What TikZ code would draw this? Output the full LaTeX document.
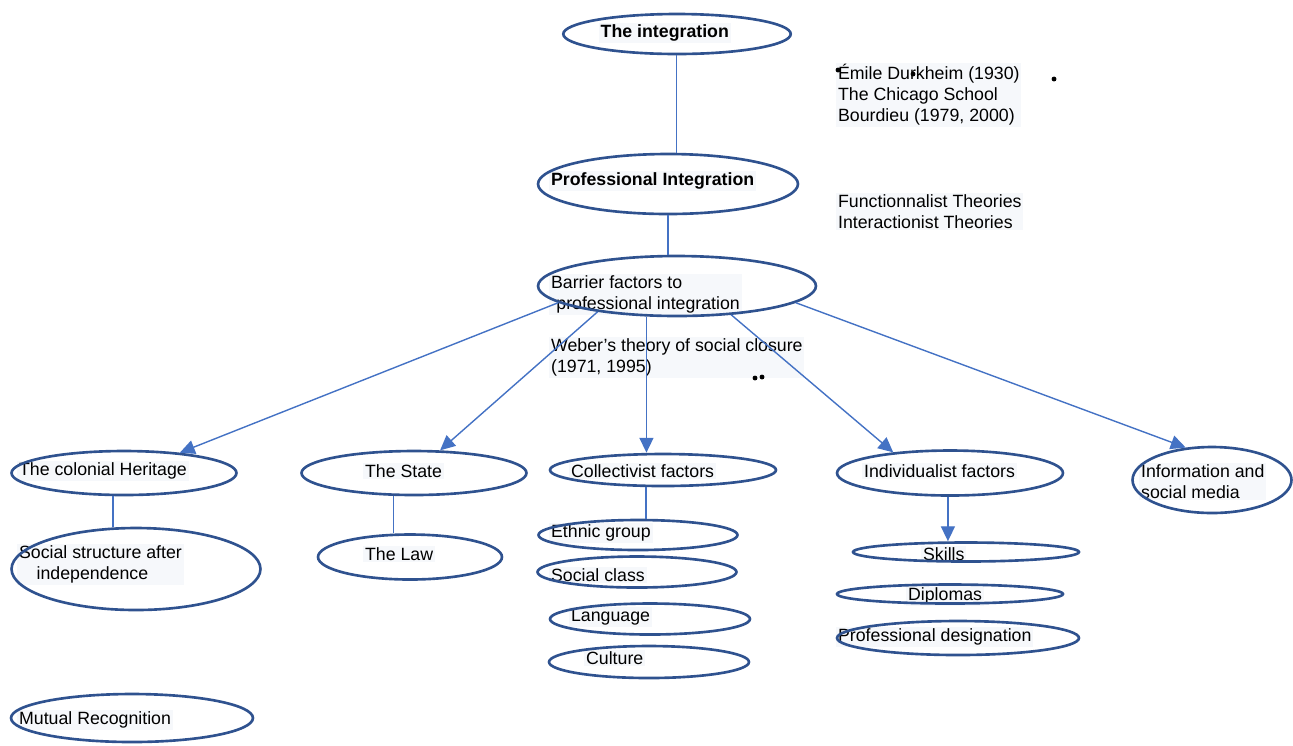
\documentclass[tikz,border=0pt]{standalone}
\usepackage{fontspec}
\setmainfont{Liberation Sans}
\usetikzlibrary{shapes.geometric}
\usetikzlibrary{arrows.meta,positioning}
\definecolor{ovalblue}{RGB}{47,82,143}
\definecolor{linkblue}{RGB}{68,114,196}
\definecolor{textbg}{RGB}{246,248,251}

\begin{document}
\begin{tikzpicture}[x=0.02cm,y=-0.02cm,-,auto]
\tikzstyle{oval}=[ellipse,draw=ovalblue,line width=1.5pt,inner sep=0pt]
\tikzstyle{txt}=[fill=textbg,inner sep=1pt,anchor=west,align=left,font=\fontsize{10.1}{12}\selectfont]
\tikzstyle{link}=[draw=linkblue,line width=0.8pt]
\tikzstyle{arr}=[link,-{Triangle[length=8.5pt,width=8pt]}]
\useasboundingbox (0,0) rectangle (1293,745);
% texts
\node [txt,anchor=east] (t0) at (731,33) {\bfseries The integration};
\node [txt] (t1) at (549,181) {\bfseries Professional Integration};
\node [txt] (t2) at (549,294.5) {Barrier factors to\\\hspace*{3pt}professional integration};
\node [txt] (t3) at (549,357.5) {Weber’s theory of social closure\\(1971, 1995)};
\node [txt] (t4) at (836,95) {Émile Durkheim (1930)\\The Chicago School\\Bourdieu (1979, 2000)};
\node [txt] (t5) at (836,211.5) {Functionnalist Theories\\Interactionist Theories};
\node [txt] (t6) at (17,471) {The colonial Heritage};
\node [txt] (t7) at (363,471) {The State};
\node [txt] (t8) at (569,471) {Collectivist factors};
\node [txt] (t9) at (862,471) {Individualist factors};
\node [txt] (t10) at (1139,481.5) {Information and\\social media};
\node [txt] (t11) at (17,564.5) {Social structure after\\\hspace*{10pt}independence};
\node [txt] (t12) at (363,554) {The Law};
\node [txt] (t13) at (549,533) {Ethnic group};
\node [txt] (t14) at (549,575) {Social class};
\node [txt] (t15) at (569,617) {Language};
\node [txt] (t16) at (584,658) {Culture};
\node [txt] (t17) at (921,554) {Skills};
\node [txt] (t18) at (906,596) {Diplomas};
\node [txt] (t19) at (836,637) {Professional designation};
\node [txt] (t20) at (17,720) {Mutual Recognition};
% ovals
\node [oval,minimum width=4.55cm,minimum height=0.8cm] (integ) at (677,34) {};
\node [oval,minimum width=5.2cm,minimum height=1.2cm] (prof) at (668,184) {};
\node [oval,minimum width=5.56cm,minimum height=1.2cm] (barrier) at (677,286) {};
\node [oval,minimum width=4.5cm,minimum height=0.88cm] (colonial) at (124,473) {};
\node [oval,minimum width=4.5cm,minimum height=0.88cm] (state) at (414,473) {};
\node [oval,minimum width=4.52cm,minimum height=0.64cm] (collect) at (663,470) {};
\node [oval,minimum width=4.52cm,minimum height=0.9cm] (indiv) at (950,473) {};
\node [oval,minimum width=3.18cm,minimum height=1.32cm] (info) at (1212,480) {};
\node [oval,minimum width=4.98cm,minimum height=1.64cm] (social) at (136,569) {};
\node [oval,minimum width=3.68cm,minimum height=0.9cm] (law) at (410,557) {};
\node [oval,minimum width=3.98cm,minimum height=0.6cm] (ethnic) at (638,535) {};
\node [oval,minimum width=3.98cm,minimum height=0.62cm] (sclass) at (637,572) {};
\node [oval,minimum width=4cm,minimum height=0.62cm] (lang) at (650,619) {};
\node [oval,minimum width=4cm,minimum height=0.64cm] (culture) at (649,662) {};
\node [oval,minimum width=4.52cm,minimum height=0.38cm] (skills) at (966,552) {};
\node [oval,minimum width=4.52cm,minimum height=0.38cm] (diplomas) at (950,594) {};
\node [oval,minimum width=4.84cm,minimum height=0.68cm] (profdes) at (958,638) {};
\node [oval,minimum width=4.84cm,minimum height=0.96cm] (mutual) at (132,718) {};
% connectors
\path (integ.268) edge [link] (integ.268 |- prof.north);
\path (prof.south) edge [link] (prof.south |- barrier.north);
\path (barrier.188) edge [arr] (colonial.20);
\path (barrier.198) edge [arr] (state.41);
\path (barrier.225) edge [arr] (barrier.225 |- collect.north);
\path (barrier.332) edge [arr] (indiv.160);
\path (barrier.352) edge [arr] (info.129);
\path (colonial.245) edge [link] (colonial.245 |- social.north);
\path (state.228) edge [link] (state.228 |- law.north);
\path (collect.225) edge [link] (collect.225 |- ethnic.north);
\path (indiv.265) edge [arr] (indiv.265 |- skills.north);
% dots
\fill (838,70) circle (1.4pt);
\fill (913,74) circle (1.4pt);
\fill (1054,79) circle (1.4pt);
\fill (755,378) circle (1.4pt);
\fill (762,377) circle (1.4pt);
\end{tikzpicture}
\end{document}
